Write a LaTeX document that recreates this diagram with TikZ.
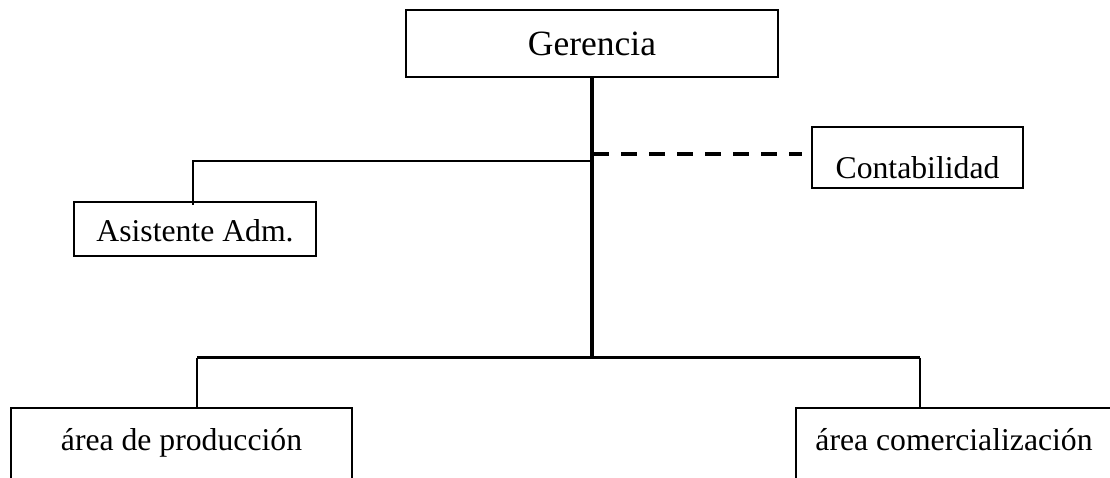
\documentclass[tikz,border=0pt]{standalone}
\usepackage{fontspec}
\setmainfont{Liberation Serif}
\begin{document}
\begin{tikzpicture}[x=1pt,y=-1pt,
  box/.style={draw=black,line width=2pt,inner sep=0pt,fill=white,
    font=\fontsize{31.7}{36}\selectfont},
  trunk/.style={line width=3.5pt},
  thin/.style={line width=1.4pt},
  dashline/.style={line width=3.5pt,dash pattern=on 16pt off 12pt}]
\useasboundingbox (0,0) rectangle (1110,478);
\clip (0,0) rectangle (1110,478);
\fill[white] (0,0) rectangle (1110,478);
% nodes
\node[box,minimum width=372pt,minimum height=67pt,text height=24.4pt,text depth=0pt,
  font=\fontsize{35.5}{40}\selectfont] (ger) at (592,43.5) {Gerencia};
\node[box,minimum width=242pt,minimum height=54pt,text height=25.4pt,text depth=0pt] (asis) at (195,229) {Asistente Adm.};
\node[box,minimum width=211pt,minimum height=61pt,text height=42pt,text depth=0pt] (conta) at (917.5,157.5) {Contabilidad};
\node[box,minimum width=341pt,minimum height=78pt,text height=21pt,text depth=15pt] (prod) at (181.5,447) {área de producción};
\node[box,minimum width=316pt,minimum height=78pt,text height=21pt,text depth=15pt] (come) at (954,447) {área comercialización};
% junction coordinates
\coordinate (busL) at (197,357.5);
\coordinate (busR) at (920,357.5);
\coordinate (asisJ) at (193,161);
\coordinate (dashS) at (593,154);
% trunk
\draw[trunk] (ger.south) -- (ger.south |- 0,356);
% bus
\draw[line width=3pt] (busL) -- (busR);
\draw[thin] (busL) -- (busL |- prod.north);
\draw[thin] (busR) -- (busR |- come.north);
% assistant branch
\draw[thin] (ger.south |- asisJ) -- (asisJ) -- ([yshift=-4pt]asisJ |- asis.north);
% staff (dashed) branch
\draw[dashline] (dashS) -- ([xshift=-9pt]dashS -| conta.west);
\end{tikzpicture}
\end{document}
